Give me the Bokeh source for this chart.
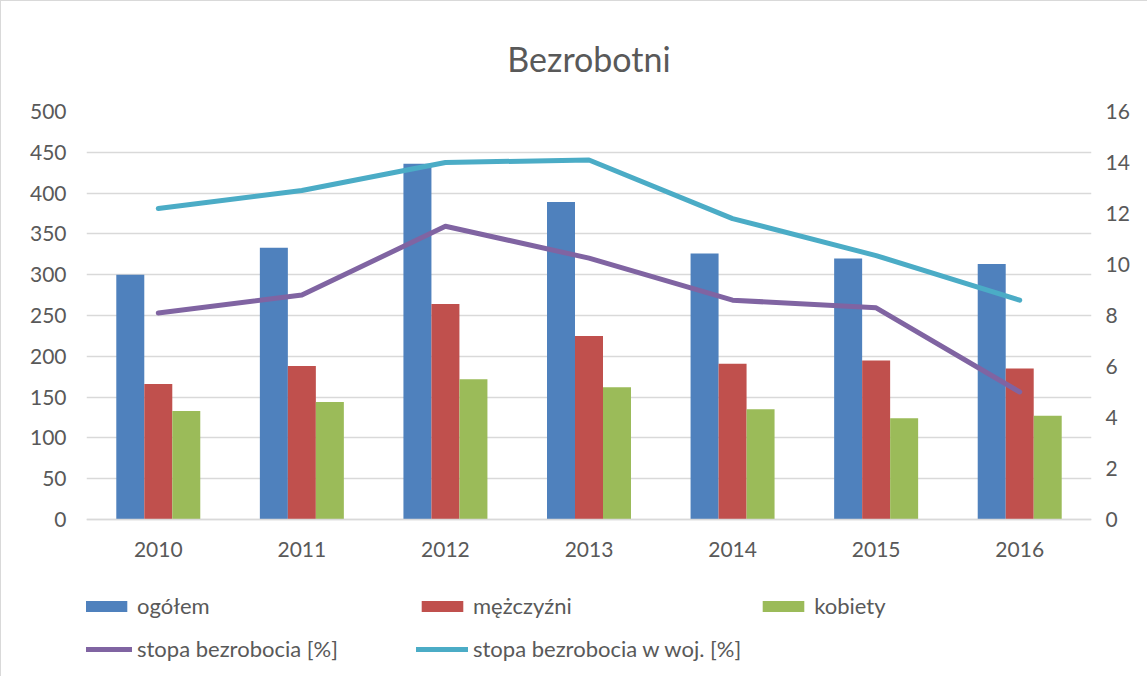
from bokeh.plotting import figure
from bokeh.models import FactorRange, Range1d, LinearAxis, Legend, LegendItem, ColumnDataSource, FixedTicker
from bokeh.transform import dodge
from bokeh.embed import file_html
from bokeh.resources import INLINE

years = ["2010", "2011", "2012", "2013", "2014", "2015", "2016"]
ogolem = [300, 333, 436, 389, 326, 320, 313]
mezczyzni = [166, 188, 264, 225, 191, 195, 185]
kobiety = [133, 144, 172, 162, 135, 124, 127]
stopa = [8.1, 8.8, 11.5, 10.25, 8.6, 8.3, 5.0]
stopa_woj = [12.2, 12.9, 14.0, 14.1, 11.8, 10.35, 8.6]
left_ticks = [0, 50, 100, 150, 200, 250, 300, 350, 400, 450, 500]
right_ticks = [0, 2, 4, 6, 8, 10, 12, 14, 16]

FONT = "Lato"
TXT = "#595959"
GRID = "#D9D9D9"

# plot area: data region 408 px tall; the frame continues below it to hold the legend
DATA_H = 408
EXTRA = 153
left_max, right_max = 500, 16

src = ColumnDataSource(dict(year=years, ogolem=ogolem, mezczyzni=mezczyzni,
                            kobiety=kobiety, stopa=stopa, stopa_woj=stopa_woj))

p = figure(frame_width=1005, frame_height=DATA_H + EXTRA, x_range=FactorRange(factors=years),
           y_range=Range1d(-EXTRA * left_max / DATA_H, left_max),
           output_backend="svg", toolbar_location=None,
           min_border_left=85, min_border_right=57, min_border_top=110,
           min_border_bottom=5, title="Bezrobotni")
p.extra_y_ranges = {"pct": Range1d(-EXTRA * right_max / DATA_H, right_max)}
p.outline_line_color = None
p.background_fill_color = "white"
p.border_fill_color = "white"
p.styles = {"border-left": "1px solid #D9D9D9", "border-top": "1px solid #D9D9D9"}

p.title.align = "center"
p.title.text_font = FONT
p.title.text_font_size = "34px"
p.title.text_font_style = "normal"
p.title.text_color = TXT
p.title.standoff = 66

bw = 0.195
r1 = p.vbar(x=dodge("year", -bw, range=p.x_range), top="ogolem", width=bw, source=src,
            fill_color="#4F81BD", line_color=None)
r2 = p.vbar(x=dodge("year", 0, range=p.x_range), top="mezczyzni", width=bw, source=src,
            fill_color="#C0504D", line_color=None)
r3 = p.vbar(x=dodge("year", bw, range=p.x_range), top="kobiety", width=bw, source=src,
            fill_color="#9BBB59", line_color=None)
r4 = p.line(x="year", y="stopa", source=src, y_range_name="pct", line_color="#8064A2",
            line_width=5, line_cap="round", line_join="round")
r5 = p.line(x="year", y="stopa_woj", source=src, y_range_name="pct", line_color="#4BACC6",
            line_width=5, line_cap="round", line_join="round")

p.yaxis.ticker = FixedTicker(ticks=left_ticks)
ax_r = LinearAxis(y_range_name="pct", ticker=FixedTicker(ticks=right_ticks))
p.add_layout(ax_r, "right")

for ax in [p.yaxis[0], ax_r]:
    ax.axis_line_color = None
    ax.major_tick_line_color = None
    ax.minor_tick_line_color = None
    ax.major_label_text_font = FONT
    ax.major_label_text_font_size = "21px"
    ax.major_label_text_color = TXT
p.yaxis[0].major_label_standoff = 14
ax_r.major_label_standoff = 8

p.xaxis.fixed_location = 0
p.xaxis.axis_line_color = GRID
p.xaxis.axis_line_width = 1.5
p.xaxis.major_tick_line_color = None
p.xaxis.minor_tick_line_color = None
p.xaxis.major_label_text_font = FONT
p.xaxis.major_label_text_font_size = "21px"
p.xaxis.major_label_text_color = TXT
p.xaxis.major_label_standoff = 16

p.xgrid.grid_line_color = None
p.ygrid.ticker = FixedTicker(ticks=left_ticks)
p.ygrid.grid_line_color = GRID
p.ygrid.grid_line_width = 1.5

legend = Legend(items=[
    LegendItem(label="ogółem", renderers=[r1]),
    LegendItem(label="mężczyźni", renderers=[r2]),
    LegendItem(label="kobiety", renderers=[r3]),
    LegendItem(label="stopa bezrobocia [%]", renderers=[r4]),
    LegendItem(label="stopa bezrobocia w woj. [%]", renderers=[r5]),
], orientation="horizontal", ncols=3, location=(-6, 10))
legend.glyph_width = 52
legend.glyph_height = 14
legend.label_standoff = 5
legend.label_width = 263
legend.label_height = 22
legend.spacing = 16
legend.padding = 0
legend.margin = 0
legend.border_line_color = None
legend.background_fill_alpha = 0
legend.label_text_font = FONT
legend.label_text_font_size = "22px"
legend.label_text_color = TXT
p.add_layout(legend, "center")

open("out.html", "w").write(file_html(p, INLINE))
